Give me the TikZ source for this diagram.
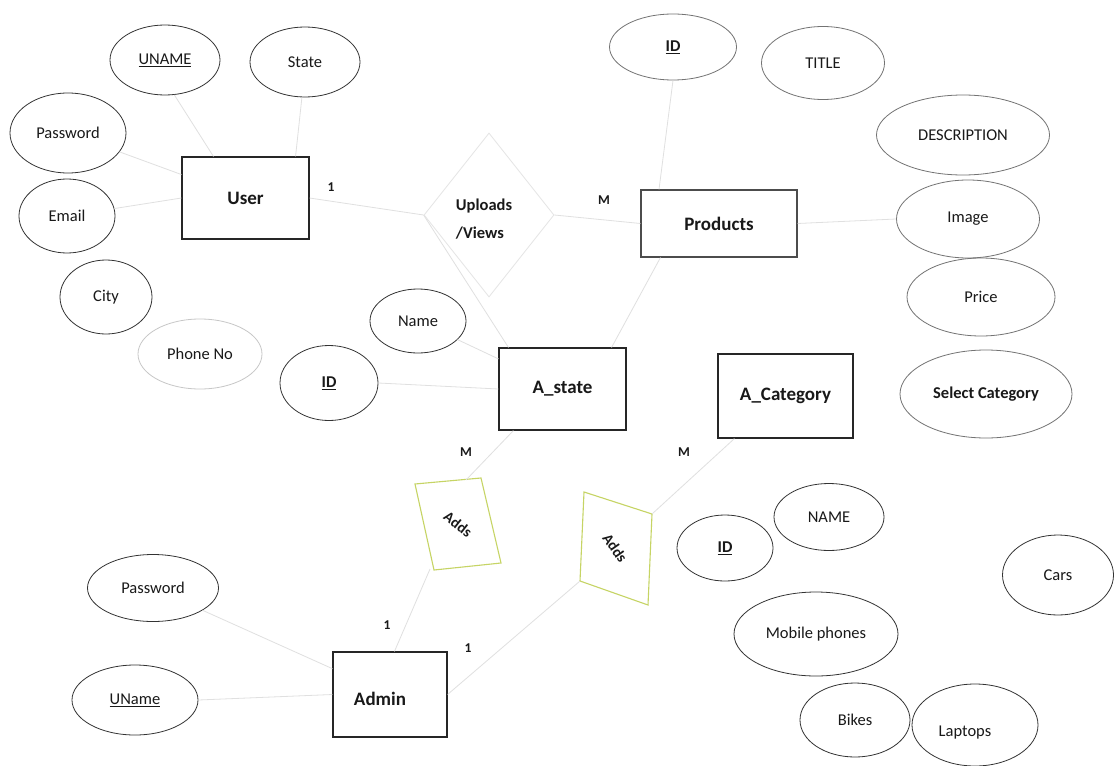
\documentclass[tikz,border=0pt]{standalone}
\usepackage{fontspec}
\setmainfont{Carlito}
\usetikzlibrary{shapes.geometric}
\definecolor{addsgreen}{RGB}{198,212,100}
\definecolor{inkc}{RGB}{25,25,25}
\tikzset{
  attr/.style={ellipse, draw=black!80, line width=0.8pt, inner sep=0pt, text=inkc,
    font=\fontsize{16.5}{18}\selectfont},
  attrlight/.style={attr, draw=black!55},
  ent/.style={rectangle, draw=black!85, line width=1.1pt, inner sep=0pt, text=inkc,
    font=\bfseries\fontsize{19}{21}\selectfont},
  conn/.style={draw=black!12, line width=0.8pt},
  card/.style={text=inkc, font=\bfseries\fontsize{13.5}{15}\selectfont},
  relbox/.style={draw=addsgreen, line width=1.1pt},
  reltext/.style={text=inkc, font=\bfseries\fontsize{15}{17}\selectfont}
}
\begin{document}
\begin{tikzpicture}[x=1pt,y=-1pt]
\useasboundingbox (0,0) rectangle (1115,765);
\fill[white] (0,0) rectangle (1115,765);

% ---------- User and its attributes
\node[ent, minimum width=127pt, minimum height=82pt] (user) at (245.5,198) {User};
\node[attr, minimum width=110pt, minimum height=70pt] (uname) at (165,60) {\underline{UNAME}};
\node[attr, minimum width=110pt, minimum height=70pt] (state) at (305,62) {State};
\node[attr, minimum width=116pt, minimum height=80pt] (upass) at (68,133) {Password};
\node[attr, minimum width=96pt, minimum height=74pt] (email) at (67,216) {Email};
\node[attr, minimum width=92pt, minimum height=74pt] (city) at (106,297) {City};
\node[attr, draw=black!22, minimum width=124pt, minimum height=70pt] (phone) at (200,354) {Phone No};
\node[card] (c1) at (331,187) {1};

% ---------- Uploads/Views relationship (faint diamond)
\node[diamond, draw=black!10, line width=0.8pt, minimum width=130pt, minimum height=164pt, inner sep=0pt] (upl) at (489,215) {};
\node[reltext, align=left, font=\bfseries\fontsize{16.5}{28}\selectfont] (upltext) at (484,219) {Uploads\\/Views};
\node[card] (cm1) at (604,200) {M};

% ---------- Products and its attributes
\node[ent, draw=black!70, minimum width=156pt, minimum height=67pt] (products) at (719,223.5) {Products};
\node[attrlight, minimum width=127pt, minimum height=66pt] (pid) at (673,47) {\textbf{\underline{ID}}};
\node[attrlight, minimum width=123pt, minimum height=73pt] (title) at (823,63) {TITLE};
\node[attrlight, minimum width=173pt, minimum height=80pt] (desc) at (963,135) {DESCRIPTION};
\node[attrlight, minimum width=143pt, minimum height=78pt] (image) at (968,219) {Image};
\node[attrlight, minimum width=148pt, minimum height=78pt] (price) at (981,297) {Price};
\node[attrlight, minimum width=172pt, minimum height=88pt, font=\bfseries\fontsize{16.5}{18}\selectfont] (selcat) at (986,394) {Select Category};

% ---------- A_state
\node[ent, minimum width=127pt, minimum height=82pt] (astate) at (562.5,389) {A\_state};
\node[attr, minimum width=96pt, minimum height=64pt] (sname) at (418,321) {Name};
\node[attr, minimum width=98pt, minimum height=75pt] (sid) at (329,383) {\textbf{\underline{ID}}};

% ---------- A_Category
\node[ent, minimum width=135pt, minimum height=84pt] (acat) at (785.5,396) {A\_Category};
\node[card] (cm2) at (466,452) {M};
\node[card] (cm3) at (684,452) {M};

% ---------- Adds relationships (tilted boxes)
\coordinate (a1tl) at (415,484);
\coordinate (a1tr) at (481,478);
\coordinate (a1br) at (501,563);
\coordinate (a1bl) at (434,570);
\draw[relbox] (a1tl) -- (a1tr) -- (a1br) -- (a1bl) -- cycle;
\node[reltext, rotate=-38] (adds1) at (458,524) {Adds};
\coordinate (a1n) at (466,480);
\coordinate (a1s) at (430,569);

\coordinate (a2tl) at (584,492);
\coordinate (a2tr) at (652,514);
\coordinate (a2br) at (648,605);
\coordinate (a2bl) at (580,581);
\draw[relbox] (a2tl) -- (a2tr) -- (a2br) -- (a2bl) -- cycle;
\node[reltext, rotate=-55] (adds2) at (615,548) {Adds};

\node[card] (c2) at (387,625) {1};
\node[card] (c3) at (468,648) {1};

% ---------- Admin
\node[ent, minimum width=114pt, minimum height=85pt] (admin) at (390,694.5) {};
\node[text=inkc, font=\bfseries\fontsize{19}{21}\selectfont] (admintext) at (380,699) {Admin};
\node[attr, minimum width=131pt, minimum height=67pt] (apass) at (153,588) {Password};
\node[attr, minimum width=126pt, minimum height=70pt] (auname) at (135,700) {\underline{UName}};

% ---------- Category attributes
\node[attr, minimum width=96pt, minimum height=66pt] (cid) at (725,548) {\textbf{\underline{ID}}};
\node[attr, minimum width=110pt, minimum height=67pt] (cname) at (829,517) {NAME};
\node[attr, minimum width=111pt, minimum height=80pt] (cars) at (1058,575) {Cars};
\node[attr, minimum width=164pt, minimum height=84pt] (mobile) at (816,634) {Mobile phones};
\node[attr, minimum width=110pt, minimum height=74pt] (bikes) at (855,720) {Bikes};
\node[attr, minimum width=126pt, minimum height=82pt] (laptops) at (975,725) {};
\node[text=inkc, font=\fontsize{16.5}{18}\selectfont] (laptext) at (965,733) {Laptops};

% ---------- Connectors (faint)
\draw[conn] (uname.285) -- ([xshift=32pt]user.north west);
\draw[conn] (state.265) -- ([xshift=-14pt]user.north east);
\draw[conn] (upass) -- (user);
\draw[conn] (email) -- (user.west);
\draw[conn] (user.east) -- (upl.west);
\draw[conn] (upl.east) -- (products.west);
\draw[conn] (upl.west) -- ([xshift=10pt]astate.north west);
\draw[conn] (pid.south) -- ([xshift=-60pt]products.north);
\draw[conn] (products.east) -- (image.west);
\draw[conn] ([xshift=20pt]products.south west) -- ([xshift=-15pt]astate.north east);
\draw[conn] (sname) -- (astate);
\draw[conn] (sid.east) -- (astate.west);
\draw[conn] ([xshift=15pt]astate.south west) -- (a1n);
\draw[conn] (a1s) -- ([xshift=62pt]admin.north west);
\draw[conn] ([xshift=17pt]acat.south west) -- (a2tr);
\draw[conn] (a2bl) -- (admin.east);
\draw[conn] (apass) -- (admin);
\draw[conn] (auname.east) -- (admin.west);
\end{tikzpicture}
\end{document}
